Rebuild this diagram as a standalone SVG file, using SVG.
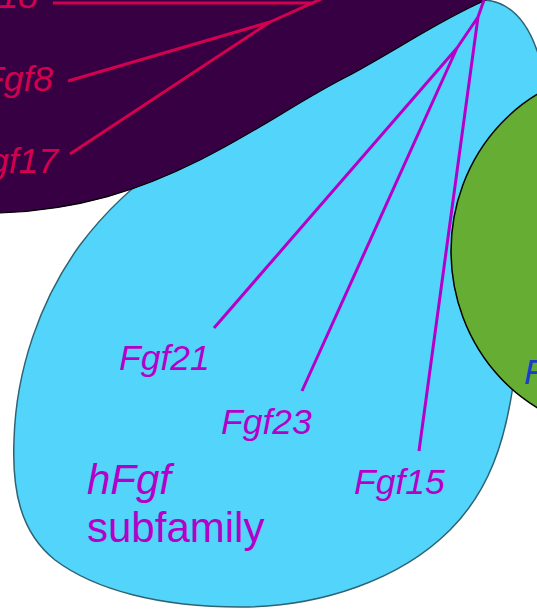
<svg xmlns="http://www.w3.org/2000/svg" width="537" height="610" viewBox="0 0 537 610">
<style>
.lbl{font-family:"Liberation Sans",Arial,sans-serif;font-style:italic;font-size:35.5px}
.mag{fill:#b400c8}
.crim{fill:#d2004f}
.mline{stroke:#b400c8;stroke-width:3;fill:none;stroke-linecap:butt;stroke-linejoin:round}
.cline{stroke:#d2004f;stroke-width:3;fill:none;stroke-linejoin:round}
</style>
<rect width="537" height="610" fill="#ffffff"/>
<g id="hfgf-subfamily">
<path d="M485,0 C508,2 528,18 540,60 L565,100 L565,370 L513,386 C505,440 490,490 450,530 C400,580 320,607 240,607 C160,607 95,590 55,560 C20,532 12,490 14,440 C16,370 40,300 80,245 C110,205 140,180 170,160 L300,80 Z" fill="#52d4fb" stroke="#2f6373" stroke-width="1.5"/>
</g>
<g id="fgf8-subfamily">
<path d="M-5,213 L0,213 C80,210 140,190 200,160 C260,130 300,100 350,75 C400,48 440,20 486,0 L486,-5 L-5,-5 Z" fill="#360042" stroke="#000000" stroke-width="1.2"/>
</g>
<g id="green-subfamily">
<ellipse cx="621" cy="251" rx="170" ry="180" fill="#66ae33" stroke="#000000" stroke-width="1.5"/>
</g>
<g id="connectors">
<path class="mline" d="M484,0 L478,17 L419,451 M478,17 L457,48 L214,328 M457,48 L302,391"/>
<path class="cline" d="M68,81 L270,22 L330,-5 M70,154 L270,22 M53,3 L314,3"/>
</g>
<g id="labels">
<text class="lbl mag" x="119" y="370">Fgf21</text>
<text class="lbl mag" x="221" y="434">Fgf23</text>
<text class="lbl mag" x="354" y="494">Fgf15</text>
<text class="lbl mag" x="87" y="494" style="font-size:42px">hFgf</text>
<text class="mag" x="87" y="542" style="font-family:'Liberation Sans',Arial,sans-serif;font-size:42px">subfamily</text>
<text class="lbl crim" x="53" y="91" text-anchor="end">Fgf8</text>
<text class="lbl crim" x="58" y="173" text-anchor="end">Fgf17</text>
<text class="lbl crim" x="38" y="8" text-anchor="end">Fgf18</text>
<text class="lbl" x="524" y="384" fill="#1a3cc8">F</text>
</g>
</svg>
